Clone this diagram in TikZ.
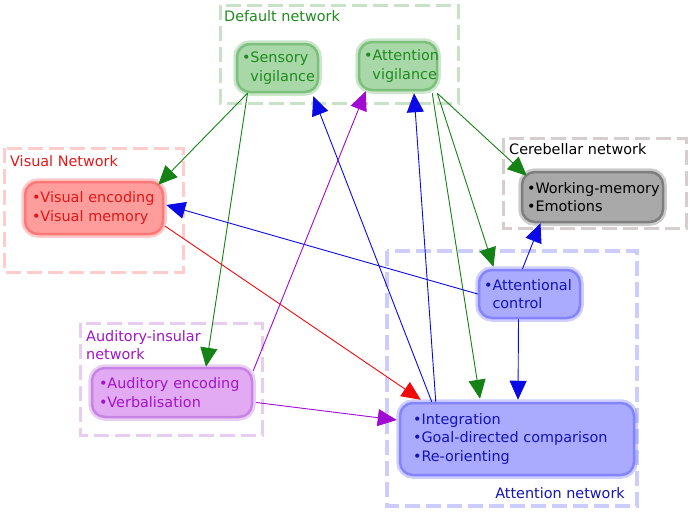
\documentclass[tikz,border=0pt]{standalone}
\usepackage{fontspec}
\setmainfont{DejaVu Sans}
\usetikzlibrary{arrows.meta,calc}
\definecolor{gtxt}{HTML}{1E8A1E}
\definecolor{gfill}{HTML}{A8D8A8}
\definecolor{gbrd}{HTML}{7CC07C}
\definecolor{gbox}{HTML}{C8E2C8}
\definecolor{rtxt}{HTML}{E01818}
\definecolor{rfill}{HTML}{FF9C9C}
\definecolor{rbrd}{HTML}{FF7878}
\definecolor{rbox}{HTML}{FFCCCC}
\definecolor{ktxt}{HTML}{000000}
\definecolor{kfill}{HTML}{A9A9A9}
\definecolor{kbrd}{HTML}{7E7E7E}
\definecolor{kbox}{HTML}{D6CECE}
\definecolor{btxt}{HTML}{1414B4}
\definecolor{bfill}{HTML}{AAAAFF}
\definecolor{bbrd}{HTML}{8484FF}
\definecolor{bbox}{HTML}{CCCCFF}
\definecolor{ptxt}{HTML}{A014C8}
\definecolor{pfill}{HTML}{E2AAF2}
\definecolor{pbrd}{HTML}{C884E4}
\definecolor{pbox}{HTML}{E8CCF2}
\definecolor{agreen}{HTML}{148214}
\definecolor{ablue}{HTML}{0A0AE6}
\definecolor{ared}{HTML}{F00A0A}
\definecolor{apurple}{HTML}{A00AD2}
\tikzset{
  every node/.style={font=\fontsize{14.4}{18.5}\selectfont},
  grp/.style={draw=#1, line width=3pt, dash pattern=on 15pt off 6pt},
  grplabel/.style={inner sep=0pt, font=\fontsize{14.4}{18}\selectfont},
  unit/.style 2 args={draw=#2, fill=#1, line width=2.5pt, rounded corners=13pt,
     preaction={draw=#2, draw opacity=0.4, line width=7.5pt},
     align=left, inner xsep=5pt, inner ysep=3pt,
     execute at begin node={\hyphenpenalty=10000\exhyphenpenalty=10000\hbadness=10000\hfuzz=20pt}},
  conn/.style={-{Triangle[length=19pt,width=17pt]}, line width=0.9pt, draw=#1},
}
\begin{document}
\begin{tikzpicture}[x=1pt,y=-1pt]
\useasboundingbox (0,0) rectangle (690,512);
% group boxes
\draw[grp=gbox] (220,5) rectangle (458,103);
\node[grplabel, anchor=base west, text=gtxt] (lgdef) at (224,21) {Default network};
\draw[grp=rbox] (4,148) rectangle (183,272);
\node[grplabel, anchor=base west, text=rtxt] (lgvis) at (10,166) {Visual Network};
\draw[grp=kbox] (503,138) rectangle (686,228);
\node[grplabel, anchor=base west, text=ktxt] (lgcer) at (509,154) {Cerebellar network};
\draw[grp=pbox] (80,323) rectangle (262,435);
\node[grplabel, anchor=base west, text=ptxt] (lgaud1) at (86,341) {Auditory-insular};
\node[grplabel, anchor=base west, text=ptxt] (lgaud2) at (86,359) {network};
\draw[grp=bbox, line width=4pt] (387,251) rectangle (637,506);
\node[grplabel, anchor=base east, text=btxt] (lgatt) at (625,498) {Attention network};
% nodes
\node[unit={gfill}{gbrd}, text=gtxt, text width=71pt, minimum height=48pt] (sv) at (277.5,68)
  {•Sensory\\\phantom{•}vigilance};
\node[unit={gfill}{gbrd}, text=gtxt, text width=68pt, minimum height=48pt] (av) at (398,66)
  {•Attention\\\phantom{•}vigilance};
\node[unit={rfill}{rbrd}, text=rtxt, inner xsep=7pt, text width=124pt, minimum height=52pt] (vis) at (94,208)
  {•Visual encoding\\•Visual memory};
\node[unit={kfill}{kbrd}, text=ktxt, text width=131pt, minimum height=50pt] (wm) at (592.5,197)
  {•Working-memory\\•Emotions};
\node[unit={bfill}{bbrd}, text=btxt, text width=91pt, minimum height=48pt] (ac) at (529.5,294)
  {•Attentional\\\phantom{•}control};
\node[unit={bfill}{bbrd}, text=btxt, inner xsep=13pt, text width=208pt, minimum height=72pt] (integ) at (517,439)
  {•Integration\\•Goal-directed comparison\\•Re-orienting};
\node[unit={pfill}{pbrd}, text=ptxt, inner xsep=7pt, text width=146pt, minimum height=49pt] (aud) at (172,392.5)
  {•Auditory encoding\\•Verbalisation};
% connectors
\draw[conn=agreen] ($(sv.south)+(-30,0)$) -- ($(vis.north east)+(-6,4)$);
\draw[conn=agreen] ($(sv.south)+(-30,0)$) -- ($(aud.north)+(34,0)$);
\draw[conn=agreen] ($(av.south east)+(-1,2)$) -- ($(wm.north west)+(6,5)$);
\draw[conn=agreen] ($(av.south east)+(-1,2)$) -- ($(ac.north)+(-36,-2)$);
\draw[conn=agreen] ($(av.south east)+(-6,2)$) -- ($(integ.north)+(-37,-3)$);
\draw[conn=ablue] ($(integ.north west)+(33,0)$) -- ($(sv.south east)+(-6,3)$);
\draw[conn=ablue] ($(integ.north west)+(37,0)$) -- ($(av.south)+(16,2)$);
\draw[conn=ablue] (ac.west) -- ($(vis.east)+(2,-3)$);
\draw[conn=ablue] ($(ac.north)+(-7,0)$) -- ($(wm.south)+(-52,0)$);
\draw[conn=ablue] ($(ac.south)+(-11,0)$) -- ($(integ.north)+(1,-2)$);
\draw[conn=ared] ($(vis.south east)+(1,-9)$) -- ($(integ.north west)+(22,-2)$);
\draw[conn=apurple] ($(aud.north east)+(0,4)$) -- ($(av.south west)+(8,0)$);
\draw[conn=apurple] ($(aud.east)+(3,10)$) -- ($(integ.west)+(-2,-19)$);
\end{tikzpicture}
\end{document}
